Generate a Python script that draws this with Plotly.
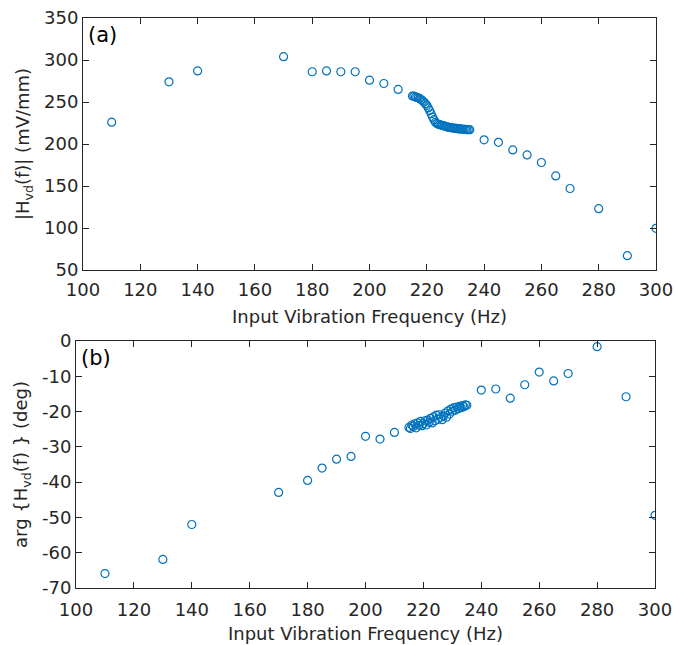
import plotly.graph_objects as go

freq_a = [110, 130, 140, 170, 180, 185, 190, 195, 200, 205, 210,
          215, 215.5, 216, 216.5, 217, 217.5, 218, 218.5, 219, 219.5, 220, 220.5,
          221, 221.5, 222, 222.5, 223, 223.5, 224, 224.5, 225, 225.5, 226, 226.5,
          227, 227.5, 228, 228.5, 229, 229.5, 230, 230.5, 231, 231.5, 232, 232.5,
          233, 233.5, 234, 234.5, 235,
          240, 245, 250, 255, 260, 265, 270, 280, 290, 300]
mag = [226, 274, 287, 304, 286, 287, 286, 286, 276, 272, 265,
       257, 257, 256, 255.5, 255, 254, 253, 251.5, 250, 248, 246, 243,
       240, 236, 232, 229, 226, 224.5, 223.5, 223, 222.5, 222, 221.5, 221,
       220.5, 220, 219.5, 219.5, 219, 219, 218.5, 218.5, 218, 218, 218, 217.5,
       217.5, 217.5, 217, 217, 217,
       205, 202, 193, 187, 178, 162, 147, 123, 67, 99.6]

freq_b = freq_a
phase = [-65.9, -61.9, -52, -42.9, -39.5, -36, -33.5, -32.7, -27, -27.8, -25.9,
         -24.5, -24.8, -23.8, -24.2, -23.5, -24.6, -23.2, -23.9, -22.8, -24.0, -23.4, -22.6,
         -23.8, -22.4, -23.0, -21.9, -23.2, -21.5, -22.6, -21.0, -22.2, -20.9, -21.6, -22.3,
         -21.2, -20.4, -21.6, -19.8, -20.7, -19.3, -19.9, -18.9, -19.6, -18.7, -19.2, -18.5,
         -18.9, -18.3, -18.6, -18.1, -18.2,
         -13.9, -13.6, -16.2, -12.4, -8.8, -11.3, -9.2, -1.6, -15.8, -49.4]

x_ticks = list(range(100, 301, 20))
y1_ticks = list(range(50, 351, 50))
y2_ticks = list(range(-70, 1, 10))
y2_labels = [str(v) for v in y2_ticks]

blue = "#0072BD"
dark = "#262626"
font_family = "DejaVu Sans, Verdana, sans-serif"
fs = 18

fig = go.Figure()
marker = dict(symbol="circle-open", size=8, color=blue, line=dict(width=1.2, color=blue))
fig.add_trace(go.Scatter(x=freq_a, y=mag, mode="markers", marker=marker,
                         xaxis="x", yaxis="y", showlegend=False))
fig.add_trace(go.Scatter(x=freq_b, y=phase, mode="markers", marker=marker,
                         xaxis="x2", yaxis="y2", showlegend=False))

axis_common = dict(showline=True, linecolor=dark, linewidth=1, mirror="ticks",
                   ticks="inside", ticklen=6, tickcolor=dark, showgrid=False,
                   zeroline=False, automargin=False,
                   tickfont=dict(size=fs, color=dark, family=font_family))

fig.update_layout(
    width=676, height=645,
    margin=dict(l=76, r=20, t=18, b=57),
    paper_bgcolor="white", plot_bgcolor="white",
    font=dict(family=font_family, color=dark),
    xaxis=dict(domain=[0.0121, 1], range=[100, 300], tickvals=x_ticks, anchor="y",
               ticklabelstandoff=3,
               title=dict(text="Input Vibration Frequency (Hz)", font=dict(size=fs), standoff=11),
               **axis_common),
    yaxis=dict(domain=[0.5579, 1], range=[50, 350], tickvals=y1_ticks, anchor="x",
               title=dict(text="|H<sub>vd</sub>(f)| (mV/mm)", font=dict(size=fs), standoff=9),
               **axis_common),
    xaxis2=dict(domain=[0, 0.9983], range=[100, 300], tickvals=x_ticks, anchor="y2",
                ticklabelstandoff=5,
                title=dict(text="Input Vibration Frequency (Hz)", font=dict(size=fs), standoff=8),
                **axis_common),
    yaxis2=dict(domain=[0, 0.4333], range=[-70, 0], tickvals=y2_ticks, ticktext=y2_labels,
                anchor="x2",
                title=dict(text="arg {H<sub>vd</sub>(f) } (deg)", font=dict(size=fs), standoff=9),
                **axis_common),
    annotations=[
        dict(text="(a)", xref="x domain", yref="y domain", x=0.005, y=1.0, yshift=-3,
             xanchor="left", yanchor="top", showarrow=False, font=dict(size=21, color="black")),
        dict(text="(b)", xref="x2 domain", yref="y2 domain", x=0.005, y=1.0, yshift=-3,
             xanchor="left", yanchor="top", showarrow=False, font=dict(size=21, color="black")),
    ],
)

fig.write_html("out.html", config={"displayModeBar": False},
               post_script="document.body.style.margin='0px';")
